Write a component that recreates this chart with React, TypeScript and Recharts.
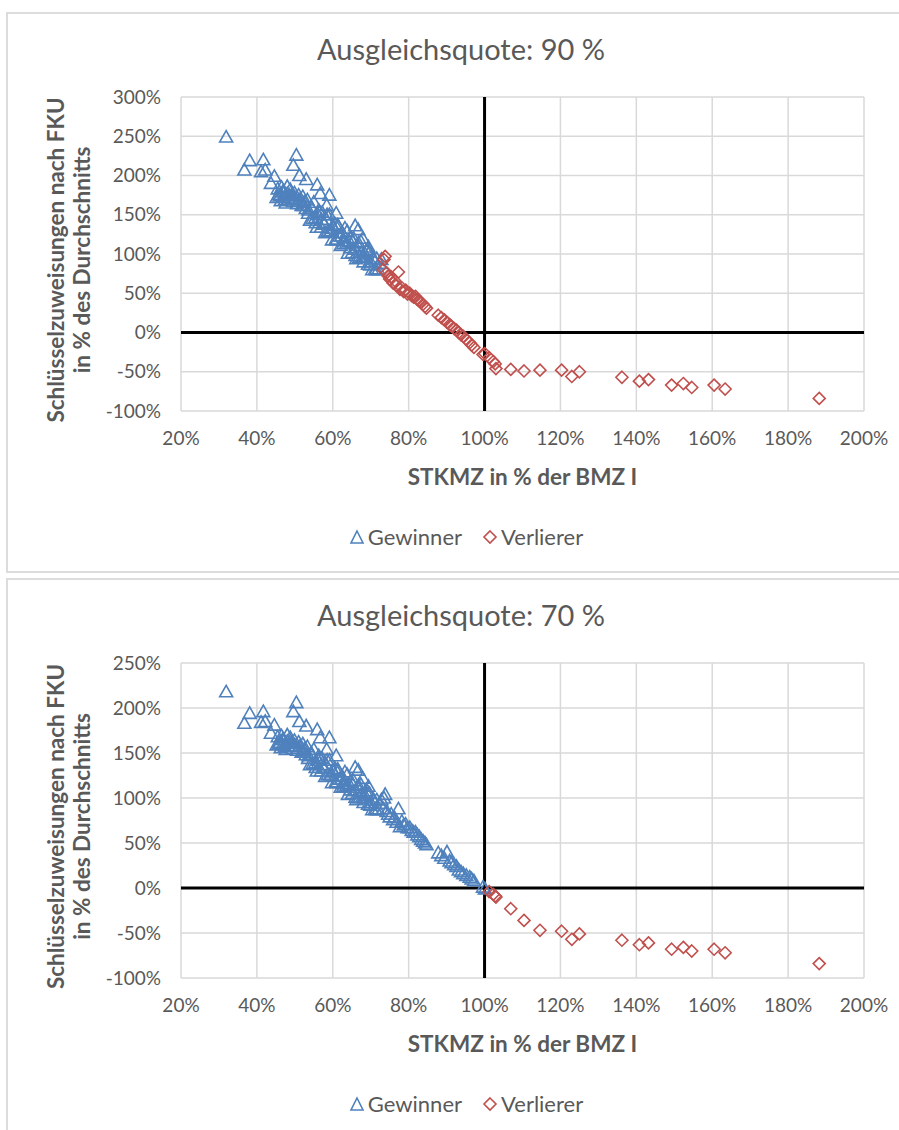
import React from 'react';
import { ScatterChart, Scatter, XAxis, YAxis, CartesianGrid, ReferenceLine, Label } from 'recharts';

// ---------- DATA ----------
const xTicks = [20, 40, 60, 80, 100, 120, 140, 160, 180, 200];
const yTicks90 = [-100, -50, 0, 50, 100, 150, 200, 250, 300];
const yTicks70 = [-100, -50, 0, 50, 100, 150, 200, 250];

// Ausgleichsquote 90 % – Gewinner
const gewinner90X = [
  31.9, 36.7, 38.1, 41.1, 41.7, 42.2, 43.7, 44.6, 49.6, 50.4, 51.2, 53.0, 55.9, 56.7, 58.4, 59.1, 60.9, 65.9, 66.7, 67.9, 69.4,
  45.5, 46.5, 48.0, 47.0,
  45.2, 45.8, 46.3, 46.8, 47.2, 47.6, 48.0, 48.3, 48.8, 49.1, 49.5, 49.9, 50.2, 50.6, 51.0, 51.3, 51.8, 52.1, 52.5, 52.9,
  53.3, 53.6, 54.0, 54.3, 54.7, 55.0, 55.4, 55.8, 56.1, 56.5, 56.9, 57.2, 57.6, 58.0, 58.3, 58.7, 59.1, 59.5, 59.8, 60.2,
  60.6, 61.0, 61.3, 61.7, 62.1, 62.5, 62.8, 63.2, 63.6, 64.0, 64.4, 64.7, 65.1, 65.5, 65.9, 66.2, 66.6, 67.0, 67.4, 67.8,
  68.1, 68.5, 68.9, 69.3, 69.7, 70.0, 70.4, 70.8, 71.2, 71.6, 72.0, 72.4, 72.8,
  53.5, 54.5, 55.5, 56.3, 57.0, 57.8, 58.5, 59.3, 60.0, 60.8, 61.5, 62.3, 63.0, 63.8, 64.6, 65.3, 66.0, 66.8, 67.6, 68.3,
  69.1, 69.9, 70.6, 71.4, 46.0, 47.4, 48.6, 49.7, 50.8, 52.3,
];
const gewinner90Y = [
  249, 207, 219, 205, 220, 207, 190, 199, 213, 226, 200, 195, 188, 177, 162, 175, 152, 136, 131, 120, 109,
  183, 185, 186, 180,
  172, 176, 168, 179, 172, 165, 177, 170, 182, 174, 167, 178, 171, 164, 175, 169, 162, 173, 166, 158,
  169, 156, 143, 160, 145, 166, 146, 134, 150, 154, 134, 153, 140, 127, 144, 129, 150, 130, 118, 133,
  138, 118, 137, 123, 111, 127, 113, 133, 114, 101, 116, 121, 102, 120, 106, 94, 111, 96, 116, 97,
  90, 100, 104, 87, 103, 90, 80, 94, 81, 94, 80, 88, 93,
  152, 158, 140, 156, 144, 138, 150, 129, 136, 119, 135, 123, 117, 129, 108, 115, 98, 114, 102, 96,
  106, 86, 94, 80, 174, 169, 175, 171, 167, 162,
];

// Ausgleichsquote 90 % – Verlierer
const verlierer90X = [
  73.3, 73.5, 73.8, 74.2, 74.6, 75.0, 75.4, 75.9, 76.3, 76.8, 77.3, 77.7, 78.2, 78.7, 79.2, 79.7, 80.3, 80.8, 81.3, 81.8,
  82.3, 82.8, 83.3, 83.8, 84.3, 84.7, 87.8, 88.6, 89.4, 90.1, 90.8, 91.3, 92.0, 92.6, 93.2, 93.8, 94.4, 95.2, 96.1, 96.6,
  97.2, 99.6, 100.1, 101.2, 102.3, 102.8, 103.0, 106.9, 110.4, 114.6, 120.3, 123.0, 125.0, 136.2, 140.8, 143.2, 149.3,
  152.4, 154.6, 160.5, 163.4, 188.2,
];
const verlierer90Y = [
  80, 93, 97, 76, 72, 68, 71, 63, 66, 60, 77, 55, 57, 52, 54, 49, 50, 47, 45, 46,
  42, 40, 38, 36, 33, 31, 22, 19, 16, 13, 10, 8, 5, 3, 0, -3, -5, -9, -13, -16,
  -19, -28, -27, -32, -37, -40, -46, -47, -49, -48, -48, -56, -50, -57, -62, -60, -67,
  -65, -70, -67, -72, -84,
];

// Ausgleichsquote 70 % – Gewinner
const gewinner70X = [
  ...gewinner90X,
  73.3, 73.5, 73.8, 74.2, 74.6, 75.0, 75.4, 75.9, 76.3, 76.8, 77.3, 77.7, 78.2, 78.7, 79.2, 79.7, 80.3, 80.8, 81.3, 81.8,
  82.3, 82.8, 83.3, 83.8, 84.3, 84.7, 87.8, 88.6, 89.4, 90.1, 90.8, 91.3, 92.0, 92.6, 93.2, 93.8, 94.4, 95.2, 96.1, 96.6,
  97.2, 99.6, 100.1,
];
const gewinner70Y = [
  218, 183, 194, 184, 196, 185, 172, 181, 196, 206, 185, 180, 176, 167, 154, 167, 147, 134, 131, 122, 113,
  168, 169, 170, 165,
  159, 162, 156, 165, 159, 154, 163, 158, 167, 161, 155, 164, 158, 153, 162, 157, 151, 160, 154, 148,
  157, 147, 137, 150, 138, 154, 139, 130, 142, 145, 130, 144, 134, 124, 137, 126, 142, 126, 117, 129,
  133, 117, 132, 121, 112, 124, 113, 129, 114, 104, 115, 119, 105, 119, 108, 98, 112, 100, 115, 101,
  95, 103, 106, 93, 105, 95, 87, 98, 88, 98, 87, 94, 98,
  144, 148, 134, 147, 137, 133, 142, 126, 131, 118, 130, 121, 116, 126, 109, 115, 101, 114, 105, 100,
  108, 92, 98, 87, 161, 157, 162, 158, 155, 151,
  88, 100, 104, 85, 82, 79, 82, 76, 78, 73, 88, 68, 74, 70, 71, 67, 67, 64, 62, 62,
  59, 57, 54, 52, 50, 48, 39, 36, 33, 40, 30, 28, 26, 24, 20, 18, 16, 14, 12, 10,
  8, 1, -1,
];

// Ausgleichsquote 70 % – Verlierer
const verlierer70X = [
  101.2, 102.3, 102.8, 103.0, 106.9, 110.4, 114.6, 120.3, 123.0, 125.0, 136.2, 140.8, 143.2, 149.3,
  152.4, 154.6, 160.5, 163.4, 188.2,
];
const verlierer70Y = [
  -4, -7, -9, -10, -23, -36, -47, -48, -57, -51, -58, -63, -61, -68,
  -66, -70, -68, -72, -84,
];

const toPoints = (xs: number[], ys: number[]) => xs.map((x, i) => ({ x, y: ys[i] }));

// ---------- STYLE ----------
const BLUE = '#4f81bd';
const RED = '#c0504d';
const GRAY = '#595959';
const GRID = '#d9d9d9';
const FONT = 'Lato, "Open Sans", sans-serif';

const TriangleShape = (props: any) => {
  const { cx, cy } = props;
  if (cx == null || cy == null) return null;
  return (
    <polygon
      points={`${cx},${cy - 6.5} ${cx - 6.5},${cy + 5} ${cx + 6.5},${cy + 5}`}
      fill="none"
      stroke={BLUE}
      strokeWidth={1.6}
    />
  );
};

const DiamondShape = (props: any) => {
  const { cx, cy } = props;
  if (cx == null || cy == null) return null;
  return (
    <polygon
      points={`${cx},${cy - 6} ${cx + 6},${cy} ${cx},${cy + 6} ${cx - 6},${cy}`}
      fill="none"
      stroke={RED}
      strokeWidth={1.6}
    />
  );
};

type PanelProps = {
  top: number;
  height: number;
  plotTop: number;
  plotBottom: number;
  title: string;
  yTicks: number[];
  gewinner: { x: number; y: number }[];
  verlierer: { x: number; y: number }[];
};

const Panel = ({ top, height, plotTop, plotBottom, title, yTicks, gewinner, verlierer }: PanelProps) => {
  const yAxisWidth = 70;
  const xAxisHeight = 40;
  const plotLeft = 181;
  const plotRight = 864;
  const midY = (plotTop + plotBottom) / 2 + 6;
  return (
    <div style={{ position: 'absolute', left: 0, top, width: 899, height }}>
      <div
        style={{
          position: 'absolute',
          left: 0,
          width: 922,
          top: 29,
          textAlign: 'center',
          fontFamily: FONT,
          fontSize: 29,
          color: GRAY,
          lineHeight: '40px',
        }}
      >
        {title}
      </div>
      <div style={{ position: 'absolute', left: 0, top: 0 }}>
        <ScatterChart
          width={899}
          height={height}
          margin={{
            top: plotTop,
            right: 899 - plotRight,
            left: plotLeft - yAxisWidth,
            bottom: height - plotBottom - xAxisHeight,
          }}
        >
          <CartesianGrid stroke={GRID} strokeWidth={1.5} />
          <XAxis
            type="number"
            dataKey="x"
            domain={[20, 200]}
            ticks={xTicks}
            interval={0}
            height={xAxisHeight}
            axisLine={false}
            tickLine={false}
            tickSize={0}
            tickMargin={21}
            tickFormatter={(v: number) => `${v}%`}
            tick={{ fontSize: 19, fill: GRAY, fontFamily: FONT }}
          >
            <Label
              content={() => (
                <text
                  x={(plotLeft + plotRight) / 2}
                  y={plotBottom + 65}
                  textAnchor="middle"
                  dominantBaseline="central"
                  fontFamily={FONT}
                  fontWeight="bold"
                  fontSize={22.5}
                  fill={GRAY}
                >
                  STKMZ in % der BMZ I
                </text>
              )}
            />
          </XAxis>
          <YAxis
            type="number"
            dataKey="y"
            domain={[yTicks[0], yTicks[yTicks.length - 1]]}
            ticks={yTicks}
            interval={0}
            width={yAxisWidth}
            axisLine={false}
            tickLine={false}
            tickSize={0}
            tickMargin={20}
            tickFormatter={(v: number) => `${v}%`}
            tick={{ fontSize: 19, fill: GRAY, fontFamily: FONT }}
          >
            <Label
              content={() => (
                <g>
                  <text
                    transform={`translate(55,${midY}) rotate(-90)`}
                    textAnchor="middle"
                    dominantBaseline="central"
                    fontFamily={FONT}
                    fontWeight="bold"
                    fontSize={22.5}
                    fill={GRAY}
                  >
                    Schlüsselzuweisungen nach FKU
                  </text>
                  <text
                    transform={`translate(81,${midY}) rotate(-90)`}
                    textAnchor="middle"
                    dominantBaseline="central"
                    fontFamily={FONT}
                    fontWeight="bold"
                    fontSize={22.5}
                    fill={GRAY}
                  >
                    in % des Durchschnitts
                  </text>
                </g>
              )}
            />
          </YAxis>
          <ReferenceLine x={100} stroke="#000" strokeWidth={3} />
          <ReferenceLine y={0} stroke="#000" strokeWidth={3} />
          <Scatter name="Gewinner" data={gewinner} shape={TriangleShape} isAnimationActive={false} />
          <Scatter name="Verlierer" data={verlierer} shape={DiamondShape} isAnimationActive={false} />
        </ScatterChart>
      </div>
      <div
        style={{
          position: 'absolute',
          left: 0,
          width: 932,
          top: plotBottom + 112,
          display: 'flex',
          justifyContent: 'center',
          alignItems: 'center',
          fontFamily: FONT,
          fontSize: 22,
          color: GRAY,
        }}
      >
        <svg width={16} height={16} style={{ marginRight: 3 }}>
          <polygon points="8,2 14,14 2,14" fill="none" stroke={BLUE} strokeWidth={1.6} />
        </svg>
        <span>Gewinner</span>
        <svg width={16} height={16} style={{ marginLeft: 20, marginRight: 3 }}>
          <polygon points="8,2 14,8 8,14 2,8" fill="none" stroke={RED} strokeWidth={1.6} />
        </svg>
        <span>Verlierer</span>
      </div>
    </div>
  );
};

export default function App() {
  return (
    <div
      style={{
        position: 'fixed',
        left: 0,
        top: 0,
        width: 899,
        height: 1130,
        overflow: 'hidden',
        background: '#fff',
      }}
    >
      <div
        style={{
          position: 'absolute',
          left: 6,
          top: 12,
          width: 930,
          height: 561,
          border: '2px solid #dcdcdc',
          boxSizing: 'border-box',
        }}
      />
      <div
        style={{
          position: 'absolute',
          left: 6,
          top: 578,
          width: 930,
          height: 600,
          border: '2px solid #dcdcdc',
          boxSizing: 'border-box',
        }}
      />
      <Panel
        top={0}
        height={572}
        plotTop={97}
        plotBottom={411}
        title="Ausgleichsquote: 90 %"
        yTicks={yTicks90}
        gewinner={toPoints(gewinner90X, gewinner90Y)}
        verlierer={toPoints(verlierer90X, verlierer90Y)}
      />
      <Panel
        top={566}
        height={564}
        plotTop={97}
        plotBottom={412}
        title="Ausgleichsquote: 70 %"
        yTicks={yTicks70}
        gewinner={toPoints(gewinner70X, gewinner70Y)}
        verlierer={toPoints(verlierer70X, verlierer70Y)}
      />
    </div>
  );
}
